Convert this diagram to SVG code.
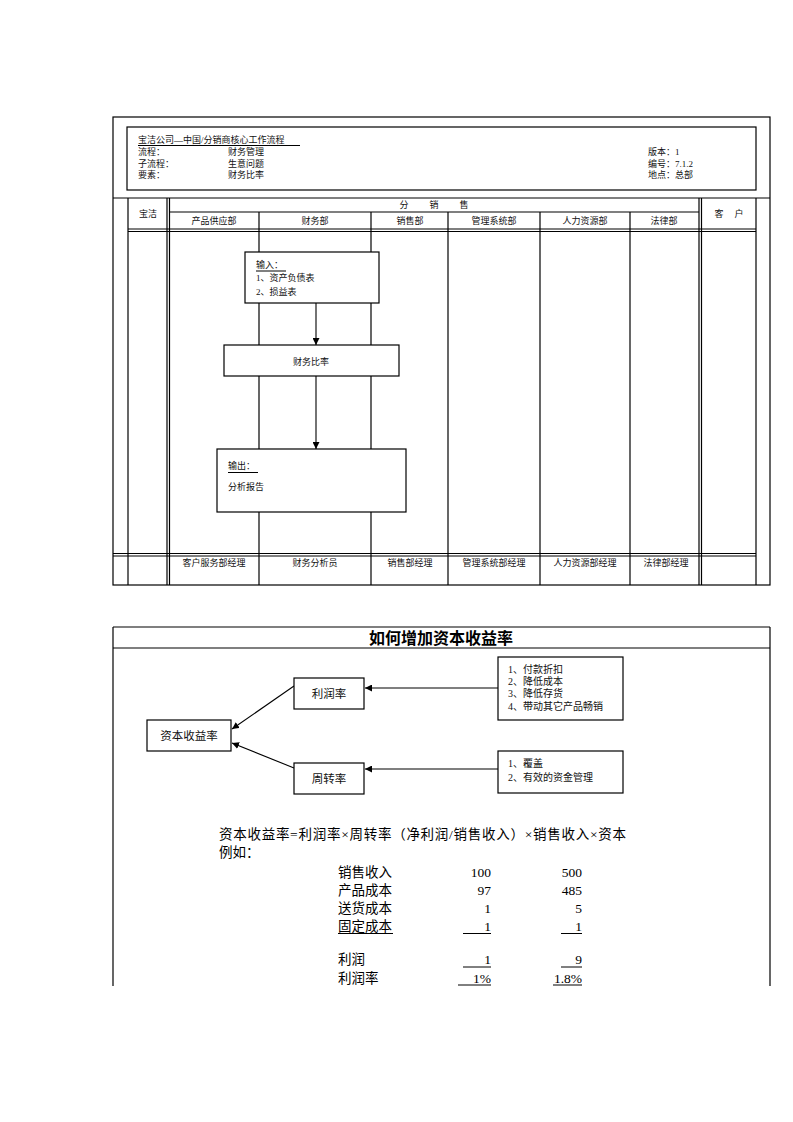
<svg xmlns="http://www.w3.org/2000/svg" width="793" height="1122" viewBox="0 0 793 1122">
<defs>
<marker id="ah" viewBox="0 0 10 10" refX="10" refY="5" markerWidth="7" markerHeight="7" markerUnits="userSpaceOnUse" orient="auto">
<path d="M0,0 L10,5 L0,10 z" fill="#000"/>
</marker>
<style>
.ln{stroke:#000;stroke-width:1.2;fill:none}
.bx{stroke:#000;stroke-width:1.2;fill:#fff}
.t{font-family:"Liberation Serif","Noto Sans CJK SC",serif;font-size:9px;fill:#111}
.m{text-anchor:middle}
.t10{font-family:"Liberation Serif","Noto Sans CJK SC",serif;font-size:10px;fill:#111}
.t11{font-family:"Liberation Serif","Noto Sans CJK SC",serif;font-size:11.5px;fill:#111;text-anchor:middle}
.t13{font-family:"Liberation Serif","Noto Sans CJK SC",serif;font-size:13.5px;fill:#000}
.r{text-anchor:end}
.conn{stroke:#000;stroke-width:1.1;fill:none;marker-end:url(#ah)}
</style>
</defs>
<rect width="793" height="1122" fill="#fff"/>

<!-- Top flow chart frame -->
<g id="frame1">
<rect class="ln" x="113" y="117" width="657" height="468"/>
<rect class="ln" x="127" y="127" width="629" height="63"/>
<line class="ln" x1="113" y1="198" x2="770" y2="198"/>
<line class="ln" x1="128" y1="198" x2="128" y2="585"/>
<line class="ln" x1="167" y1="198" x2="167" y2="585"/>
<line class="ln" x1="169.5" y1="198" x2="169.5" y2="585"/>
<line class="ln" x1="699" y1="198" x2="699" y2="585"/>
<line class="ln" x1="701.5" y1="198" x2="701.5" y2="585"/>
<line class="ln" x1="756" y1="198" x2="756" y2="585"/>
<line class="ln" x1="169.5" y1="212" x2="699" y2="212"/>
<line class="ln" x1="128" y1="229" x2="756" y2="229"/>
<line class="ln" x1="128" y1="231.5" x2="756" y2="231.5"/>
<line class="ln" x1="113" y1="553.5" x2="756" y2="553.5"/>
<line class="ln" x1="113" y1="556" x2="756" y2="556"/>
<line class="ln" x1="259" y1="212" x2="259" y2="585"/>
<line class="ln" x1="371" y1="212" x2="371" y2="585"/>
<line class="ln" x1="448" y1="212" x2="448" y2="585"/>
<line class="ln" x1="540" y1="212" x2="540" y2="585"/>
<line class="ln" x1="630" y1="212" x2="630" y2="585"/>
</g>

<g id="header">
<text class="t" x="138" y="143">宝洁公司—中国/分销商核心工作流程</text>
<line x1="138" y1="145.5" x2="300" y2="145.5" stroke="#000" stroke-width="1"/>
<text class="t" x="138" y="155">流程：</text>
<text class="t" x="228" y="155">财务管理</text>
<text class="t" x="138" y="166.5">子流程：</text>
<text class="t" x="228" y="166.5">生意问题</text>
<text class="t" x="138" y="178">要素：</text>
<text class="t" x="228" y="178">财务比率</text>
<text class="t" x="648" y="155">版本：1</text>
<text class="t" x="648" y="166.5">编号：7.1.2</text>
<text class="t" x="648" y="178">地点：总部</text>
</g>

<g id="lane-headers">
<text class="t m" x="148" y="217">宝洁</text>
<text class="t m" x="404" y="208">分</text>
<text class="t m" x="434" y="208">销</text>
<text class="t m" x="464" y="208">售</text>
<text class="t m" x="719" y="217">客</text>
<text class="t m" x="739" y="217">户</text>
<text class="t m" x="214" y="224">产品供应部</text>
<text class="t m" x="315" y="224">财务部</text>
<text class="t m" x="410" y="224">销售部</text>
<text class="t m" x="494" y="224">管理系统部</text>
<text class="t m" x="585" y="224">人力资源部</text>
<text class="t m" x="664" y="224">法律部</text>
</g>

<g id="lane-footers">
<text class="t m" x="214" y="566">客户服务部经理</text>
<text class="t m" x="315" y="566">财务分析员</text>
<text class="t m" x="410" y="566">销售部经理</text>
<text class="t m" x="494" y="566">管理系统部经理</text>
<text class="t m" x="585" y="566">人力资源部经理</text>
<text class="t m" x="666" y="566">法律部经理</text>
</g>

<g id="connectors1">
<line class="conn" x1="316" y1="303" x2="316" y2="345"/>
<line class="conn" x1="316" y1="376" x2="316" y2="449"/>
</g>

<g id="input">
<rect class="bx" x="245" y="252" width="134" height="51"/>
<text class="t" x="256" y="268">输入：</text>
<line x1="256" y1="271" x2="286" y2="271" stroke="#000" stroke-width="1"/>
<text class="t" x="256" y="281">1、资产负债表</text>
<text class="t" x="256" y="295">2、损益表</text>
</g>

<g id="ratio">
<rect class="bx" x="224" y="345" width="175" height="31"/>
<text class="t m" x="311" y="365">财务比率</text>
</g>

<g id="output">
<rect class="bx" x="217" y="449" width="189" height="63"/>
<text class="t" x="228" y="469">输出：</text>
<line x1="228" y1="472.5" x2="258" y2="472.5" stroke="#000" stroke-width="1"/>
<text class="t" x="228" y="490">分析报告</text>
</g>

<!-- Second section -->
<g id="frame2">
<line class="ln" x1="113" y1="627" x2="770" y2="627"/>
<line class="ln" x1="113" y1="627" x2="113" y2="986"/>
<line class="ln" x1="770" y1="627" x2="770" y2="986"/>
<line class="ln" x1="113" y1="648" x2="770" y2="648"/>
<text x="441" y="644" text-anchor="middle" font-family="'Liberation Sans','Noto Sans CJK SC',sans-serif" font-size="16" font-weight="bold" fill="#000">如何增加资本收益率</text>
</g>

<g id="connectors2">
<line class="conn" x1="498" y1="688" x2="365" y2="688"/>
<line class="conn" x1="498" y1="769" x2="365" y2="769"/>
<line class="conn" x1="294" y1="686" x2="232" y2="729"/>
<line class="conn" x1="294" y1="768" x2="232" y2="743"/>
</g>

<g id="profit">
<rect class="bx" x="294" y="678" width="70" height="31"/>
<text class="t11" x="329" y="698">利润率</text>
</g>
<g id="roc">
<rect class="bx" x="147" y="720" width="84" height="31"/>
<text class="t11" x="189" y="740">资本收益率</text>
</g>
<g id="turnover">
<rect class="bx" x="294" y="763" width="70" height="31"/>
<text class="t11" x="329" y="783">周转率</text>
</g>
<g id="profit-list">
<rect class="bx" x="498" y="657" width="125" height="63"/>
<text class="t10" x="508" y="672.5">1、付款折扣</text>
<text class="t10" x="508" y="684.5">2、降低成本</text>
<text class="t10" x="508" y="696.5">3、降低存货</text>
<text class="t10" x="508" y="709.5">4、带动其它产品畅销</text>
</g>
<g id="turnover-list">
<rect class="bx" x="498" y="751" width="125" height="42"/>
<text class="t10" x="508" y="766.5">1、覆盖</text>
<text class="t10" x="508" y="780.5">2、有效的资金管理</text>
</g>

<g id="formula">
<text class="t13" x="219" y="839" textLength="407" lengthAdjust="spacing">资本收益率=利润率×周转率（净利润/销售收入）×销售收入×资本</text>
<text class="t13" x="219" y="857">例如：</text>
<text class="t13" x="338" y="876.5">销售收入</text>
<text class="t13" x="338" y="894.5">产品成本</text>
<text class="t13" x="338" y="912.5">送货成本</text>
<text class="t13" x="338" y="930.5">固定成本</text>
<text class="t13" x="338" y="964">利润</text>
<text class="t13" x="338" y="982.5">利润率</text>
<text class="t13 r" x="491" y="876.5">100</text>
<text class="t13 r" x="491" y="894.5">97</text>
<text class="t13 r" x="491" y="912.5">1</text>
<text class="t13 r" x="491" y="930.5">1</text>
<text class="t13 r" x="491" y="964">1</text>
<text class="t13 r" x="491" y="982.5">1%</text>
<text class="t13 r" x="582" y="876.5">500</text>
<text class="t13 r" x="582" y="894.5">485</text>
<text class="t13 r" x="582" y="912.5">5</text>
<text class="t13 r" x="582" y="930.5">1</text>
<text class="t13 r" x="582" y="964">9</text>
<text class="t13 r" x="582" y="982.5">1.8%</text>
<g stroke="#000" stroke-width="1">
<line x1="338" y1="933.5" x2="393" y2="933.5"/>
<line x1="463" y1="933.5" x2="491" y2="933.5"/>
<line x1="561" y1="933.5" x2="582" y2="933.5"/>
<line x1="463" y1="967" x2="491" y2="967"/>
<line x1="561" y1="967" x2="582" y2="967"/>
<line x1="458" y1="985" x2="491" y2="985"/>
<line x1="553" y1="985" x2="582" y2="985"/>
</g>
</g>
</svg>
